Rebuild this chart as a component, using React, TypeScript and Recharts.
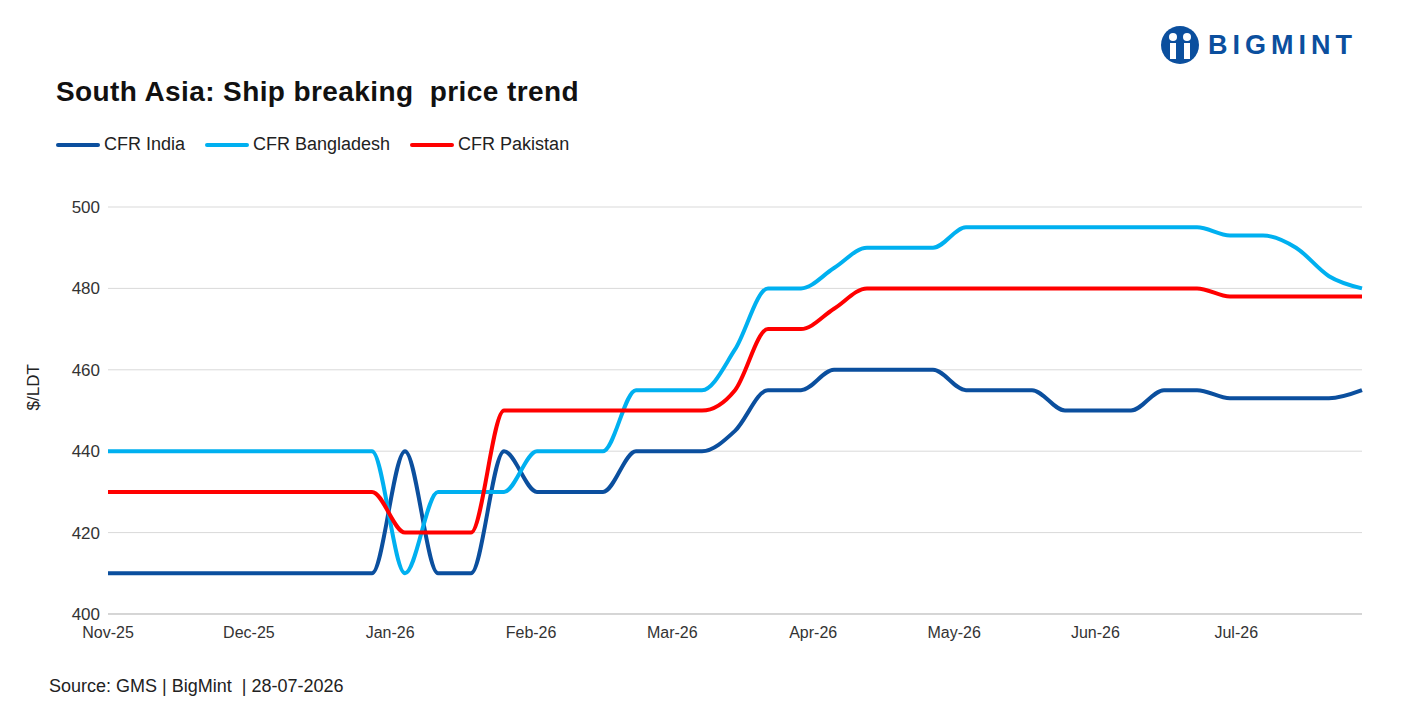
import React from 'react'
import { LineChart, Line, XAxis, YAxis, CartesianGrid } from 'recharts'

// weekly observations, Nov-25 to end Jul-26
const weeks = Array.from({ length: 39 }, (_, i) => i)
const india = [410, 410, 410, 410, 410, 410, 410, 410, 410, 440, 410, 410, 440, 430, 430, 430, 440, 440, 440, 445, 455, 455, 460, 460, 460, 460, 455, 455, 455, 450, 450, 450, 455, 455, 453, 453, 453, 453, 455]
const bangladesh = [440, 440, 440, 440, 440, 440, 440, 440, 440, 410, 430, 430, 430, 440, 440, 440, 455, 455, 455, 465, 480, 480, 485, 490, 490, 490, 495, 495, 495, 495, 495, 495, 495, 495, 493, 493, 490, 483, 480]
const pakistan = [430, 430, 430, 430, 430, 430, 430, 430, 430, 420, 420, 420, 450, 450, 450, 450, 450, 450, 450, 455, 470, 470, 475, 480, 480, 480, 480, 480, 480, 480, 480, 480, 480, 480, 478, 478, 478, 478, 478]
const monthTicks = [0, 4.27, 8.55, 12.82, 17.1, 21.37, 25.64, 29.92, 34.19]
const monthLabels = ['Nov-25', 'Dec-25', 'Jan-26', 'Feb-26', 'Mar-26', 'Apr-26', 'May-26', 'Jun-26', 'Jul-26']
const yTicks = [400, 420, 440, 460, 480, 500]

const data = weeks.map((w, i) => ({ w, india: india[i], bangladesh: bangladesh[i], pakistan: pakistan[i] }))

const font = 'Liberation Sans, Arial, sans-serif'
const series = [
  { key: 'india', name: 'CFR India', color: '#0b4f9e' },
  { key: 'bangladesh', name: 'CFR Bangladesh', color: '#00b0f0' },
  { key: 'pakistan', name: 'CFR Pakistan', color: '#ff0000' },
]

export default function App() {
  return (
    <div style={{ position: 'relative', width: 1404, height: 694, fontFamily: font, background: '#fff' }}>
      <div style={{ position: 'absolute', left: 48, top: 68, fontSize: 28, fontWeight: 'bold', color: '#111', letterSpacing: 0.4 }}>
        South Asia: Ship breaking&nbsp; price trend
      </div>
      <div style={{ position: 'absolute', left: 1152, top: 17, display: 'flex', alignItems: 'center', gap: 8 }}>
        <svg width="40" height="40" viewBox="0 0 40 40">
          <circle cx="20" cy="20" r="19" fill="#0b4f9e" />
          <circle cx="13" cy="12" r="4" fill="#fff" />
          <circle cx="27" cy="12" r="4" fill="#fff" />
          <rect x="10" y="18" width="6" height="16" fill="#fff" />
          <rect x="24" y="18" width="6" height="16" fill="#fff" />
        </svg>
        <span style={{ fontSize: 27, fontWeight: 'bold', color: '#0b4f9e', letterSpacing: 5 }}>BIGMINT</span>
      </div>
      <div style={{ position: 'absolute', left: 48, top: 126, display: 'flex', gap: 20, fontSize: 18, color: '#222' }}>
        {series.map((s) => (
          <div key={s.key} style={{ display: 'flex', alignItems: 'center', gap: 4 }}>
            <span style={{ display: 'inline-block', width: 44, height: 4, borderRadius: 2, background: s.color }} />
            {s.name}
          </div>
        ))}
      </div>
      <div style={{ position: 'absolute', left: 0, top: 0 }}>
        <LineChart width={1404} height={694} data={data} margin={{ top: 199, right: 50, left: 40, bottom: 58 }}>
          <CartesianGrid vertical={false} stroke="#d9d9d9" />
          <XAxis
            dataKey="w"
            type="number"
            domain={[0, 38]}
            ticks={monthTicks}
            tickFormatter={(v) => monthLabels[monthTicks.indexOf(v)]}
            tick={{ fontSize: 16, fill: '#333', fontFamily: font, dy: 5 }}
            tickLine={false}
            axisLine={{ stroke: '#bfbfbf' }}
            interval={0}
            height={30}
          />
          <YAxis
            domain={[400, 500]}
            ticks={yTicks}
            tick={{ fontSize: 17, fill: '#333', fontFamily: font }}
            tickLine={false}
            axisLine={false}
            width={60}
            label={{ value: '$/LDT', angle: -90, position: 'insideLeft', offset: -15, style: { fontSize: 17, fill: '#222', fontFamily: font } }}
          />
          {series.map((s) => (
            <Line key={s.key} type="monotone" dataKey={s.key} stroke={s.color} strokeWidth={4} dot={false} isAnimationActive={false} />
          ))}
        </LineChart>
      </div>
      <div style={{ position: 'absolute', left: 41, top: 668, fontSize: 18, color: '#222' }}>
        Source: GMS | BigMint&nbsp; | 28-07-2026
      </div>
    </div>
  )
}
